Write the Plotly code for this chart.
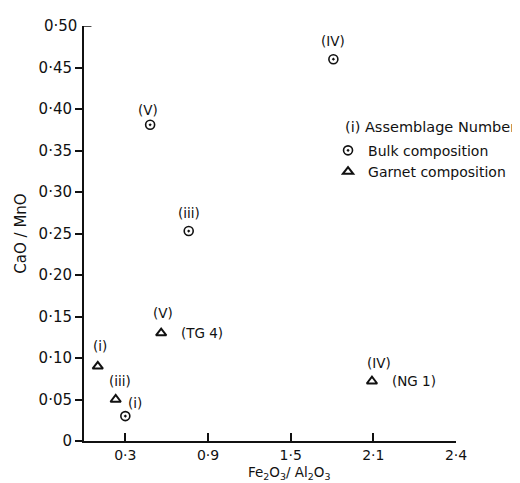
import plotly.graph_objects as go

# ---- data ----
bulk_labels = ["(i)", "(iii)", "(V)", "(IV)"]
bulk_x = [0.30, 0.76, 0.48, 1.81]
bulk_y = [0.03, 0.253, 0.381, 0.46]

garnet_labels = ["(i)", "(iii)", "(V)", "(IV)"]
garnet_samples = ["", "", "(TG 4)", "(NG 1)"]
garnet_x = [0.10, 0.23, 0.56, 2.09]
garnet_y = [0.09, 0.05, 0.13, 0.072]

x_tickvals = [0.3, 0.9, 1.5, 2.1, 2.7]
x_ticktext = ["0·3", "0·9", "1·5", "2·1", "2·4"]
y_tickvals = [0, 0.05, 0.10, 0.15, 0.20, 0.25, 0.30, 0.35, 0.40, 0.45]
y_ticktext = ["0", "0·05", "0·10", "0·15", "0·20", "0·25", "0·30", "0·35", "0·40", "0·45"]
y_top = 0.50
y_top_text = "0·50"

FONT = "DejaVu Sans"
BLACK = "#111111"

fig = go.Figure()
fig.add_trace(go.Scatter(
    x=bulk_x, y=bulk_y, mode="markers", name="Bulk composition", legendgroup="b",
    marker=dict(symbol="circle-open-dot", size=9, color=BLACK, line=dict(width=1.6, color=BLACK)),
))
fig.add_trace(go.Scatter(
    x=garnet_x, y=garnet_y, mode="markers", name="Garnet composition", legendgroup="g",
    marker=dict(symbol="triangle-up-open", size=9, color=BLACK, line=dict(width=2, color=BLACK)),
))

# label offsets (pixels)
bulk_off = [(10, 13), (0, 18), (-2, 15), (0, 18)]
garnet_off = [(2, 20), (4, 19), (2, 20), (7, 18)]
sample_off = [(0, 0), (0, 0), (41, 0), (42, 0)]

LBL = dict(family=FONT, size=13.5, color=BLACK)
ann = []
for x, y, t, (dx, dy) in zip(bulk_x, bulk_y, bulk_labels, bulk_off):
    ann.append(dict(x=x, y=y, text=t, showarrow=False, xshift=dx, yshift=dy, font=LBL))
for x, y, t, s, (dx, dy), (sx, sy) in zip(garnet_x, garnet_y, garnet_labels, garnet_samples, garnet_off, sample_off):
    ann.append(dict(x=x, y=y, text=t, showarrow=False, xshift=dx, yshift=dy, font=LBL))
    if s:
        ann.append(dict(x=x, y=y, text=s, showarrow=False, xshift=sx, yshift=sy, font=LBL))

# top y tick label (its tick mark points inward)
ann.append(dict(xref="paper", yref="y", x=0, y=y_top, text=y_top_text, showarrow=False,
                xanchor="right", xshift=-5, font=dict(family=FONT, size=15, color=BLACK)))
# x axis title
ann.append(dict(xref="paper", yref="paper", x=0.5, y=0, xshift=19, yshift=-32, yanchor="middle",
                showarrow=False,
                text="Fe<sub>2</sub>O<sub>3</sub>/ Al<sub>2</sub>O<sub>3</sub>",
                font=dict(family=FONT, size=13.5, color=BLACK)))
# legend heading
ann.append(dict(xref="paper", yref="paper", x=0.696, y=0.756, xanchor="left", yanchor="middle",
                showarrow=False, text="(i) Assemblage Number",
                font=dict(family=FONT, size=14.5, color=BLACK)))

fig.update_layout(
    width=520, height=483,
    margin=dict(l=76, r=72, t=18, b=50),
    paper_bgcolor="white", plot_bgcolor="white",
    font=dict(family=FONT, size=14, color=BLACK),
    showlegend=True,
    legend=dict(x=0.656, y=0.738, xanchor="left", yanchor="top",
                font=dict(size=14), bgcolor="rgba(0,0,0,0)", tracegroupgap=0, itemwidth=30),
    annotations=ann,
    shapes=[dict(type="line", xref="paper", yref="y", x0=0, x1=0.02, y0=y_top, y1=y_top,
                 line=dict(color=BLACK, width=1.5))],
    xaxis=dict(range=[0, 2.7], tickvals=x_tickvals, ticktext=x_ticktext, showgrid=False, zeroline=False,
               showline=True, linecolor=BLACK, linewidth=2, ticks="inside", ticklen=8, tickwidth=2,
               tickcolor=BLACK, tickfont=dict(size=14)),
    yaxis=dict(range=[0, 0.5], tickvals=y_tickvals, ticktext=y_ticktext, showgrid=False, zeroline=False,
               showline=True, linecolor=BLACK, linewidth=2, ticks="outside", ticklen=7, tickwidth=1.5,
               tickcolor=BLACK, tickfont=dict(size=15),
               title=dict(text="CaO / MnO", font=dict(size=15), standoff=8)),
)

fig.write_html("out.html")
